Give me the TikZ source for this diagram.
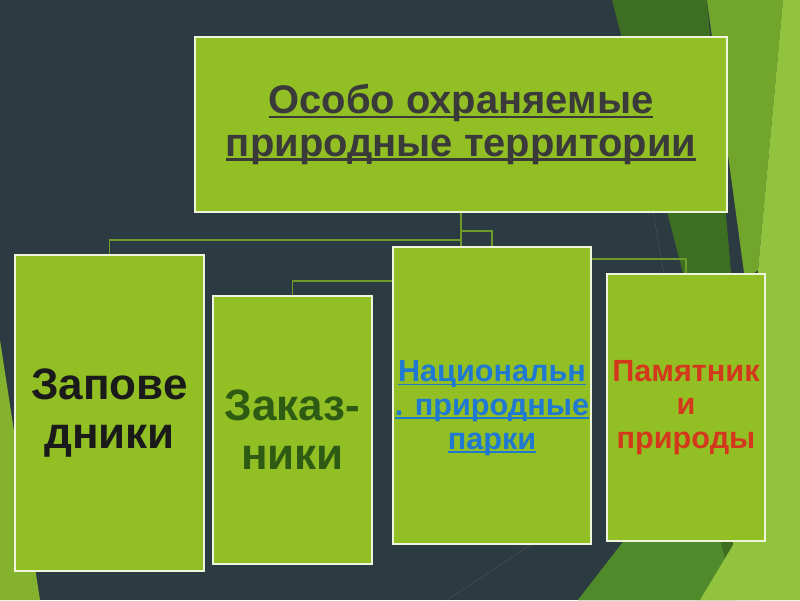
\documentclass[tikz,border=0pt]{standalone}
\usepackage{fontspec}
\setmainfont{Liberation Sans}

% underline with given depth and thickness
\newcommand{\ulbar}[3]{\leavevmode\setbox0=\hbox{#3}\rlap{\rule[-#1]{\wd0}{#2}}\box0}

\definecolor{slate}{HTML}{2C3A42}
\definecolor{boxgreen}{HTML}{92C024}
\definecolor{boxedge}{HTML}{EEF5DC}
\definecolor{linkgreen}{HTML}{6F9B2A}
\definecolor{darkleaf}{HTML}{3E6E22}
\definecolor{midleaf}{HTML}{72A52B}
\definecolor{lightleaf}{HTML}{92C33F}
\definecolor{lowleaf}{HTML}{4F8B2B}
\definecolor{leftleaf}{HTML}{84B22F}
\definecolor{toptext}{HTML}{3A3A3A}
\definecolor{zaptext}{HTML}{1A1A1A}
\definecolor{zaktext}{HTML}{2E5B14}
\definecolor{nattext}{HTML}{1F78D1}
\definecolor{pamtext}{HTML}{D4381C}

\begin{document}
\begin{tikzpicture}[x=0.25mm, y=-0.25mm,
  box/.style={rectangle, draw=boxedge, line width=1.4pt, fill=boxgreen, inner sep=0pt, align=center},
  link/.style={draw=linkgreen, line width=1.1pt},
  bigtxt/.style={font=\bfseries\fontsize{31.3}{35}\selectfont},
  smalltxt/.style={font=\bfseries\fontsize{21.8}{24}\selectfont}]

  % background
  \fill[slate] (0,0) rectangle (800,600);
  \useasboundingbox (0,0) rectangle (800,600);
  \fill[darkleaf] (612,0) -- (707,0) -- (760,600) -- (578,600) -- (640,520) -- (690,300) -- cycle;
  \fill[lowleaf] (578,600) -- (640,520) -- (715,520) -- (735,600) -- cycle;
  \fill[midleaf] (707,0) -- (783,0) -- (758,270) -- (745,280) -- cycle;
  \fill[lightleaf] (783,0) -- (800,0) -- (800,600) -- (700,600) -- (733,545) -- (758,270) -- cycle;
  \fill[leftleaf] (0,340) -- (40,600) -- (0,600) -- cycle;
  \draw[black!70, line width=0.4pt] (653,212) -- (664,274);
  \draw[black!70, line width=0.4pt] (530,545) -- (447,600);

  % top box
  \node[box, minimum width=133mm, minimum height=43.75mm, text=toptext,
    font=\bfseries\fontsize{28.4}{30}\selectfont] (oopt) at (461,124.5)
    {\ulbar{3.2pt}{1.6pt}{Особо охраняемые}\\\ulbar{3.2pt}{1.6pt}{природные территории}};

  % connectors
  \draw[link] (oopt.south) -- ++(0,27) -| (109.5,255);
  \draw[link] (oopt.south) -- ++(0,18) -| (492,247);
  \draw[link] (oopt.south) -- ++(0,68) -| (292.5,296);
  \draw[link] (oopt.south) -- ++(0,46) -| (686,274);

  % lower boxes
  \node[box, bigtxt, minimum width=47.25mm, minimum height=79mm, text=zaptext] (zap) at (109.5,413)
    {Запове\\дники};
  \node[box, bigtxt, minimum width=39.75mm, minimum height=67mm, text=zaktext] (zak) at (292.5,430)
    {Заказ-\\ники};
  \node[box, minimum width=49.5mm, minimum height=74.25mm] (nat) at (492,395.5) {};
  \node[smalltxt, align=center, inner sep=0pt, text=nattext] (natlbl) at (492,408)
    {\ulbar{2.6pt}{1.1pt}{Национальн}\\\ulbar{2.6pt}{1.1pt}{. природные}\\\ulbar{2.6pt}{1.1pt}{парки}};
  \node[box, smalltxt, minimum width=39.5mm, minimum height=66.75mm, text=pamtext] (pam) at (686,407.5)
    {Памятник\\и\\природы};
\end{tikzpicture}
\end{document}
